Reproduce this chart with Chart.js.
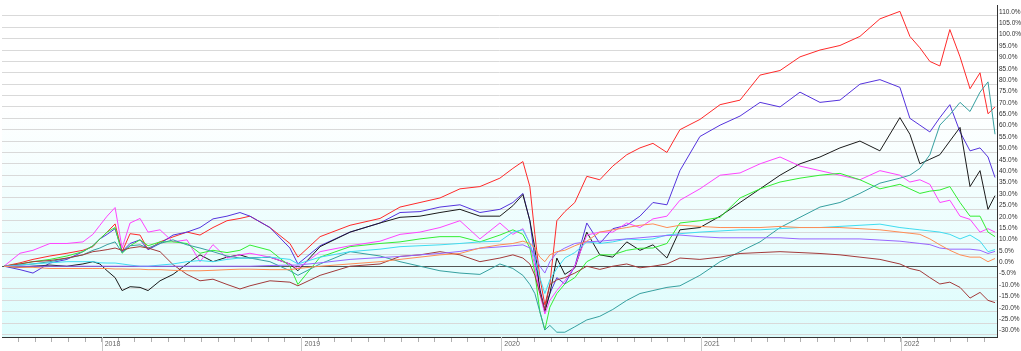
<!DOCTYPE html>
<html lang="en">
<head>
  <meta charset="UTF-8" />
  <title>Performance comparison</title>
  <style>
    body { margin: 0; padding: 0; background: #fff; }
    #wrap { width: 1021px; height: 351px; }
  </style>
</head>
<body>
  <div id="wrap"><canvas id="perfChart" width="1021" height="351"></canvas></div>

  <script src="https://cdn.jsdelivr.net/npm/chart.js"></script>
  <script>
    // sample dates as decimal years
    const dates = [2017.511, 2017.591, 2017.656, 2017.741, 2017.826, 2017.906, 2017.956, 2017.991, 2018.027, 2018.067,
      2018.102, 2018.142, 2018.192, 2018.232, 2018.292, 2018.357, 2018.427, 2018.492, 2018.557, 2018.627,
      2018.692, 2018.742, 2018.842, 2018.942, 2018.982, 2019.093, 2019.243, 2019.393, 2019.493, 2019.593,
      2019.693, 2019.793, 2019.893, 2019.993, 2020.058, 2020.108, 2020.143, 2020.168, 2020.193, 2020.218,
      2020.243, 2020.278, 2020.318, 2020.368, 2020.428, 2020.493, 2020.558, 2020.628, 2020.694, 2020.759,
      2020.829, 2020.894, 2020.994, 2021.095, 2021.195, 2021.295, 2021.395, 2021.495, 2021.595, 2021.695,
      2021.795, 2021.895, 2021.995, 2022.045, 2022.095, 2022.145, 2022.195, 2022.245, 2022.296, 2022.346,
      2022.396, 2022.436, 2022.471];

    // % change since start
    const redSeries = [0, 1.5, 3, 4.5, 5.7, 7, 8.6, 12, 15, 18.6,
      6.4, 14.3, 13.7, 7.3, 10.7, 12.9, 15, 13.7, 17, 20,
      21, 22, 17, 10, 4, 13, 18, 21, 26, 28,
      30, 34, 35, 38.7, 43, 46, 35, 14, -5, -17,
      -8, 20, 24, 28, 39.5, 38, 44, 49, 52, 54,
      50, 60, 64.5, 71, 73, 84, 86, 92, 95, 97,
      101, 108.7, 112, 101, 96, 90, 88, 104, 92, 78,
      85, 67, 70];
    const blueSeries = [0, -1.5, -3, 1.4, 3, 6.4, 9, 12, 14, 16.5,
      6.4, 10, 11.6, 7.3, 10, 13.7, 15, 17, 20.8, 22,
      23.6, 22, 17, 8, 1, 9, 15, 19, 23.6, 24,
      26, 27, 23.6, 25, 28, 32, 20, 3, -10, -19,
      -12, -5, -7.8, 0, 19, 10, 16.5, 18, 22, 28,
      27, 42, 57, 62, 66, 72, 70, 76.5, 72, 73,
      80, 82, 78.6, 65, 62, 59, 65.3, 71, 59, 50.7,
      52, 48, 39];
    const blackSeries = [0, -0.5, 0, 0.5, 0, 1, 2, 1, -2, -5,
      -10.7, -9, -9.3, -10.7, -6.4, -3.6, 1, 5, 2, 4,
      5, 3.6, 4, 1, -2, 8.6, 15, 19, 21.5, 22,
      23.6, 25, 22, 22, 26.6, 31.5, 20, 8, -10.7, -20,
      -12, 3.6, -3.6, -0.7, 15, 5, 4, 10.7, 7, 9.4,
      3.6, 16, 17, 22, 28, 34, 40, 45, 48, 52,
      55, 50.7, 65.3, 58, 45, 47, 49, 55, 61, 35,
      42, 25, 31];
    const magentaSeries = [0, 5.7, 7, 10, 10, 10.7, 14, 18, 22, 25.8,
      8, 19, 21, 15, 16, 10.7, 11.6, 2, 9.5, 3.6,
      5, 5.7, 4, 1, -1, 6.4, 9, 11, 14, 15,
      17, 20, 12, 19, 14, 16.5, 10, 0, -12, -21,
      -15, -10.7, -6.4, 0, 13.7, 15, 15, 19, 17, 20.8,
      22, 29, 34, 40, 41, 45, 48, 44, 42, 40,
      38, 42, 40, 37, 38, 36, 28, 29, 22, 20.6,
      15, 16.5, 15];
    const greenSeries = [0, 1, 2, 3, 4.5, 6.4, 9, 12, 15, 17,
      5.7, 9, 11.6, 9, 10.7, 10.7, 10, 5.7, 7, 6,
      7, 9.3, 7, 0, -8, 4, 8.6, 10, 10.7, 12,
      13, 13, 10.7, 13.7, 16, 14, 8, -3, -20, -28,
      -18, -12, -7.8, -5, 2, 5, 5, 7, 7.9, 8,
      10, 19, 20, 21.5, 30, 34, 37, 38.7, 40, 40.8,
      38, 34, 36, 34, 32, 33, 33.5, 35, 28, 22,
      22, 15, 13];
    const tealSeries = [0, 0.5, 1, 2, 3.5, 5, 7, 8, 9.5, 10.7,
      6, 9, 9.4, 8, 10, 11.6, 9.4, 8, 6.4, 4.5,
      3.6, 3.6, 2, -2, -4, 1, 6.4, 4.5, 2, 0,
      -2, -3, -3.6, 1, -1, -4, -8, -12, -20, -28,
      -26, -29, -29, -26.6, -23.6, -22, -19, -15, -12, -10.7,
      -9.3, -8.6, -4, 2, 6.4, 10.7, 17, 21.5, 26, 28,
      32, 36.5, 38.7, 40, 43, 49, 62, 66.6, 72, 68,
      76.5, 81, 58];
    const cyanSeries = [0, 0.5, 1, 1.5, 2, 2, 2, 1.5, 1.4, 1.4,
      1, 0.5, 0, 0, 0.5, 1, 2, 2.5, 2, 3,
      3.6, 3.6, 4, 3, 1, 4, 6.4, 7.5, 8.6, 9,
      9.4, 10, 10.7, 11, 15, 16, 10, 3, -5, -12,
      -6, -1, 3.6, 6, 10.7, 10, 10.7, 12, 11.6, 12,
      13.7, 14.3, 15, 15.5, 16, 16, 16.5, 17, 17, 17.5,
      18, 18.5, 17, 16.5, 16, 15.5, 15, 14, 12, 13.7,
      11, 6.4, 7.3];
    const orangeSeries = [0, -0.5, -0.5, -1, -1, -1, -1, -1, -1, -1.2,
      -1.2, -1.3, -1.3, -1.5, -1.5, -1.8, -2, -2, -1.8, -1.5,
      -1.3, -1.3, -1.5, -1.5, -1, 0, 1, 2, 3, 4,
      5, 5.6, 8, 9.4, 10, 11, 10, 8, 4, 2,
      5, 6.4, 7, 9, 11, 15, 16, 17, 18, 18.6,
      17, 18, 17.5, 17, 17, 17, 17.5, 17, 17, 17,
      16.5, 16, 15, 14.5, 14, 12, 9.4, 7, 5, 4,
      4, 2, 3.4];
    const purpleSeries = [0, 0, 0, 0, 0, 0, 0, 0, 0, 0,
      0, 0, 0, 0, 0, 0, 0, 0, 0, 0,
      0, 0, 0.3, 0.5, 0.5, 1.5, 3, 3.8, 4.3, 5,
      5.6, 6.5, 7.9, 8.5, 9, 9.4, 8, 5, 0, -3,
      2, 6, 8, 10, 10.7, 11, 11.5, 12, 12.5, 13,
      13.5, 13.7, 13, 12.5, 12.5, 12.5, 12.5, 12, 12, 12,
      12, 11.5, 11, 10.5, 10, 9.5, 8, 7.5, 7.5, 7.5,
      7, 5.6, 6.5];
    const brownSeries = [0, 1, 2, 2.5, 3.6, 5, 6.4, 6.8, 7.3, 8,
      7, 8, 8.6, 8, 6.4, 0.7, -3.6, -6.4, -5.7, -8,
      -10, -8.6, -6.4, -7, -8.6, -4, 0, 1, 4.3, 5,
      6.4, 5, 2, 3.6, 5, 3.6, 1, -4, -12, -19,
      -8, -6, -5, -3, 0, -1.4, 0, 1, -0.7, 0,
      1, 3.6, 3, 4, 5.6, 6, 6.4, 6, 5.6, 5,
      4, 3, 1, -1, -2, -5, -7.8, -7, -9.3, -14,
      -11.5, -15, -16];

    const yearLabels = [2018, 2019, 2020, 2021, 2022];

    function toPoints(arr) {
      return dates.map((d, i) => ({ x: d, y: arr[i] }));
    }

    function line(arr, color) {
      return {
        data: toPoints(arr),
        borderColor: color,
        borderWidth: 1,
        pointRadius: 0,
        tension: 0,
        fill: false
      };
    }

    // soft white -> light cyan background in the plot area
    const bgPlugin = {
      id: 'bg',
      beforeDraw(chart) {
        const { ctx, chartArea } = chart;
        const g = ctx.createLinearGradient(0, chartArea.top, 0, chartArea.bottom);
        g.addColorStop(0, '#ffffff');
        g.addColorStop(0.3, '#ffffff');
        g.addColorStop(1, '#dcfcfc');
        ctx.save();
        ctx.fillStyle = g;
        ctx.fillRect(chartArea.left, chartArea.top, chartArea.right - chartArea.left, chartArea.bottom - chartArea.top);
        ctx.restore();
      }
    };

    // long year separator ticks under the x axis
    const yearTicks = {
      id: 'yearTicks',
      afterDraw(chart) {
        const { ctx, chartArea } = chart;
        const x = chart.scales.x;
        ctx.save();
        ctx.strokeStyle = '#c8c8c8';
        ctx.lineWidth = 1;
        yearLabels.forEach(y => {
          const px = Math.round(x.getPixelForValue(y)) + 0.5;
          ctx.beginPath();
          ctx.moveTo(px, chartArea.bottom);
          ctx.lineTo(px, chart.height);
          ctx.stroke();
        });
        ctx.restore();
      }
    };

    const yFont = { family: "'Liberation Sans', Arial, sans-serif", size: 6.5 };
    const xFont = { family: "'Liberation Sans', Arial, sans-serif", size: 7 };

    const ctx = document.getElementById('perfChart').getContext('2d');
    new Chart(ctx, {
      type: 'line',
      data: {
        datasets: [
          line(orangeSeries, '#ff8c55'),
          line(purpleSeries, '#9966ff'),
          line(cyanSeries, '#3fdcf0'),
          line(brownSeries, '#a33a3a'),
          line(tealSeries, '#36a0a0'),
          line(greenSeries, '#33ee33'),
          line(magentaSeries, '#ff44ff'),
          line(blackSeries, '#1a1a1a'),
          line(blueSeries, '#5533dd'),
          line(redSeries, '#ff2a2a')
        ]
      },
      options: {
        responsive: false,
        animation: false,
        devicePixelRatio: 1,
        layout: { padding: { left: 2, top: 0, right: 0, bottom: 0 } },
        plugins: { legend: { display: false }, tooltip: { enabled: false } },
        scales: {
          x: {
            type: 'linear',
            min: 2017.501,
            max: 2022.481,
            grid: { drawOnChartArea: false, tickLength: 5, tickColor: '#b0b0b0' },
            border: { color: '#333', width: 1 },
            afterBuildTicks(scale) {
              const t = [];
              for (let y = 2017; y <= 2022; y++) {
                for (let m = 0; m < 12; m++) {
                  const v = y + m / 12;
                  if (v > scale.min && v < scale.max) t.push({ value: v });
                }
              }
              scale.ticks = t;
            },
            afterFit(scale) { scale.height = 14; },
            ticks: {
              autoSkip: false,
              maxRotation: 0,
              align: 'start',
              labelOffset: 3,
              padding: -2,
              color: '#666',
              font: xFont,
              callback: v => (Math.abs(v - Math.round(v)) < 1e-6 ? String(Math.round(v)) : '')
            }
          },
          y: {
            position: 'right',
            min: -31.1,
            max: 114.4,
            grid: {
              drawTicks: false,
              color: c => (c.tick && c.tick.value === 0 ? '#555' : '#d9d9d9'),
              lineWidth: 1
            },
            border: { color: '#333', width: 1 },
            afterFit(scale) { scale.width = 24; },
            ticks: {
              stepSize: 5,
              autoSkip: false,
              includeBounds: false,
              padding: 2,
              labelOffset: -4,
              color: '#333',
              font: yFont,
              callback: v => v.toFixed(1) + '%'
            }
          }
        }
      },
      plugins: [bgPlugin, yearTicks]
    });
  </script>
</body>
</html>
